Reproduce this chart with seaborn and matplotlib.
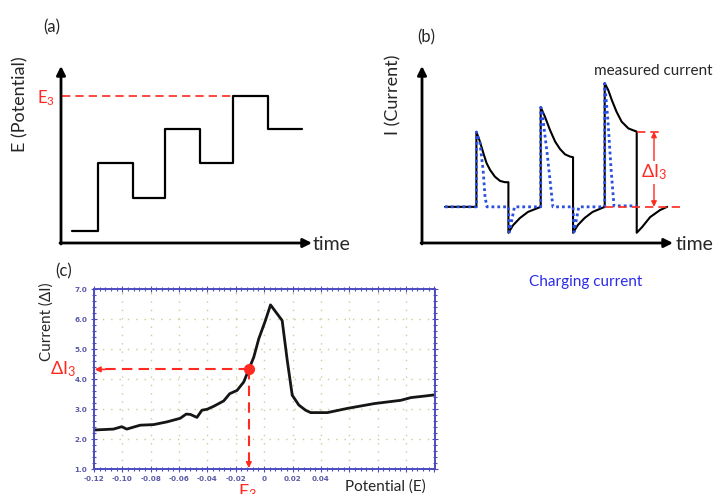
import numpy as np
import pandas as pd
import matplotlib
matplotlib.use("Agg")
import matplotlib.pyplot as plt
import seaborn as sns
from matplotlib.ticker import MultipleLocator, FixedLocator, FixedFormatter

# ---------------- data ----------------
# Panel (a): staircase potential waveform (time, level)
a_time = [0.33, 1.10, 2.13, 3.08, 4.12, 5.10, 6.13, 7.14]
a_potential = [0.36, 2.37, 1.33, 3.38, 2.37, 4.36, 3.38, 3.38]
a_e3_level = 4.36
a_e3_end = 5.10

# Panel (b): measured current and charging current
b_meas_t = [0.72, 1.70, 1.70, 1.81, 1.92, 2.02, 2.13, 2.28, 2.44, 2.59, 2.70,
            2.70, 2.85, 3.06, 3.31, 3.71,
            3.71, 3.84, 4.00, 4.16, 4.31, 4.47, 4.63, 4.72,
            4.72, 4.87, 5.08, 5.33, 5.71,
            5.71, 5.82, 5.93, 6.08, 6.24, 6.45, 6.71,
            6.71, 6.88, 7.13, 7.44, 7.66]
b_meas_i = [1.13, 1.13, 3.47, 3.17, 2.80, 2.49, 2.28, 2.07, 1.94, 1.90, 1.90,
            0.32, 0.56, 0.78, 0.97, 1.13,
            4.24, 3.95, 3.53, 3.17, 2.94, 2.77, 2.70, 2.68,
            0.32, 0.56, 0.78, 0.97, 1.13,
            4.99, 4.78, 4.47, 4.10, 3.79, 3.58, 3.48,
            0.32, 0.50, 0.81, 1.03, 1.13]
b_charge_t = [0.72, 1.70, 1.70, 1.81, 1.91, 1.97, 2.03, 2.70, 2.73, 2.89, 3.71, 3.71, 3.74, 3.91,
              4.09, 4.72, 4.75, 4.90, 5.71, 5.71, 5.81, 5.91, 6.00, 6.71]
b_charge_i = [1.13, 1.13, 3.47, 3.13, 2.28, 1.44, 1.13, 1.13, 0.34, 1.13, 1.13, 4.24, 4.20, 2.81,
              1.13, 1.13, 0.34, 1.13, 1.13, 4.99, 3.84, 2.28, 1.16, 1.16]
b_baseline = 1.13
b_i3_top = 3.48
b_step3_end = 6.71

# Panel (c): differential pulse voltammogram
c_potential = [-0.120, -0.1063, -0.1004, -0.0969, -0.0875, -0.078, -0.0686, -0.0592, -0.055, -0.0521,
               -0.0474, -0.0439, -0.0403, -0.0356, -0.0285, -0.0243, -0.0191, -0.0144, -0.0108,
               -0.0073, -0.0038, 0.0009, 0.0045, 0.0127, 0.0163, 0.0198, 0.0245, 0.0292, 0.0328,
               0.0446, 0.0587, 0.0776, 0.0964, 0.1035, 0.1129, 0.1200]
c_current = [2.30, 2.33, 2.41, 2.33, 2.46, 2.48, 2.57, 2.69, 2.83, 2.82,
             2.72, 2.96, 2.99, 3.09, 3.27, 3.51, 3.62, 3.90, 4.32,
             4.73, 5.34, 5.95, 6.47, 5.95, 4.62, 3.46, 3.13, 2.96, 2.88,
             2.88, 3.02, 3.18, 3.29, 3.38, 3.43, 3.47]
c_e3 = -0.0108
c_di3 = 4.32
c_xtick_values = [-0.12, -0.10, -0.08, -0.06, -0.04, -0.02, 0.0, 0.02, 0.04, 0.06, 0.08, 0.10, 0.12]
c_xtick_labels = ["-0.12", "-0.10", "-0.08", "-0.06", "-0.04", "-0.02", "0", "0.02", "0.04",
                  "", "", "", ""]
c_ytick_values = [1.0, 2.0, 3.0, 4.0, 5.0, 6.0, 7.0]
c_ytick_labels = ["1.0", "2.0", "3.0", "4.0", "5.0", "6.0", "7.0"]

# ---------------- style ----------------
sns.set_theme(style="white")
plt.rcParams["font.family"] = ["Lato", "DejaVu Sans"]
plt.rcParams["mathtext.fontset"] = "custom"
plt.rcParams["mathtext.rm"] = "Lato"
plt.rcParams["mathtext.it"] = "Lato:italic"

RED = "#ff2a20"
BLUE = "#2a4fe0"
AXBLUE = "#4c4cc0"

W, H = 720, 494
fig = plt.figure(figsize=(7.2, 4.94), dpi=100)


def box(l, t, r, b):
    return [l / W, 1 - b / H, (r - l) / W, (b - t) / H]


def ftext(x, y, s, **kw):
    fig.text(x / W, 1 - y / H, s, **kw)


# ---------------- panel (a) ----------------
U = 33.75
axa = fig.add_axes(box(40, 60, 330, 250))
axa.set_xlim((40 - 61) / U, (330 - 61) / U)
axa.set_ylim((243 - 250) / U, (243 - 60) / U)
axa.axis("off")
dfa = pd.DataFrame({"t": a_time, "E": a_potential})
sns.lineplot(data=dfa, x="t", y="E", ax=axa, drawstyle="steps-post", color="black",
             lw=1.6, sort=False, estimator=None)
axa.plot([0.03, a_e3_end], [a_e3_level, a_e3_level], color=RED, lw=1.2, ls=(0, (5, 3)))
arr = dict(arrowstyle="-|>", lw=2, color="black", mutation_scale=13, shrinkA=0, shrinkB=0)
axa.annotate("", xy=((312 - 61) / U, 0), xytext=(-0.03, 0), arrowprops=arr)
axa.annotate("", xy=(0, (243 - 66) / U), xytext=(0, -0.03), arrowprops=arr)

ftext(52, 27, "(a)", fontsize=12, ha="center", va="center")
ftext(20, 104, "E (Potential)", fontsize=13, rotation=90, ha="center", va="center")
ftext(313, 244, "time", fontsize=14, ha="left", va="center")
ftext(46, 98, r"$\mathregular{E_3}$", fontsize=12, color=RED, ha="center", va="center")

# ---------------- panel (b) ----------------
U2 = 32.0
axb = fig.add_axes(box(400, 55, 715, 250))
axb.set_xlim((400 - 422) / U2, (715 - 422) / U2)
axb.set_ylim((243 - 250) / U2, (243 - 55) / U2)
axb.axis("off")
dfm = pd.DataFrame({"t": b_meas_t, "I": b_meas_i})
sns.lineplot(data=dfm, x="t", y="I", ax=axb, color="black", lw=1.5, sort=False, estimator=None)
dfc = pd.DataFrame({"t": b_charge_t, "I": b_charge_i})
sns.lineplot(data=dfc, x="t", y="I", ax=axb, color=BLUE, lw=2.0, ls=(0, (1, 1.1)),
             sort=False, estimator=None)
axb.plot([5.72, (680 - 422) / U2], [b_baseline, b_baseline], color=RED, lw=1.2, ls=(0, (5, 3)))
axb.plot([b_step3_end, 7.44], [b_i3_top, b_i3_top], color=RED, lw=1.2, ls=(0, (5, 3)))
axb.annotate("", xy=(7.25, b_baseline), xytext=(7.25, b_i3_top),
             arrowprops=dict(arrowstyle="<|-|>", lw=1.0, color=RED, mutation_scale=8,
                             shrinkA=0, shrinkB=0))
axb.text(7.25, 2.2, r"$\mathregular{ΔI_3}$", fontsize=13, color=RED, ha="center", va="center",
         bbox=dict(facecolor="white", edgecolor="none", pad=1))
axb.annotate("", xy=((673 - 422) / U2, 0), xytext=(-0.03, 0), arrowprops=arr)
axb.annotate("", xy=(0, (243 - 66) / U2), xytext=(0, -0.03), arrowprops=arr)

ftext(426, 37, "(b)", fontsize=12, ha="center", va="center")
ftext(393, 95, "I (Current)", fontsize=13, rotation=90, ha="center", va="center")
ftext(676, 244, "time", fontsize=14, ha="left", va="center")
ftext(653, 71, "measured current", fontsize=11, ha="center", va="center")
ftext(586, 282, "Charging current", fontsize=11, color="#2a2ae8", ha="center", va="center")

# ---------------- panel (c) ----------------
axc = fig.add_axes(box(94, 289, 435, 469))
dfv = pd.DataFrame({"E": c_potential, "I": c_current})
sns.lineplot(data=dfv, x="E", y="I", ax=axc, color="#151515", lw=2.0, sort=False, estimator=None)
axc.set_xlim(-0.12, 0.1205)
axc.set_ylim(1.0, 7.0)
axc.xaxis.set_major_locator(FixedLocator(c_xtick_values))
axc.xaxis.set_major_formatter(FixedFormatter(c_xtick_labels))
axc.yaxis.set_major_locator(FixedLocator(c_ytick_values))
axc.yaxis.set_major_formatter(FixedFormatter(c_ytick_labels))
axc.xaxis.set_minor_locator(MultipleLocator(0.004))
axc.yaxis.set_minor_locator(MultipleLocator(0.2))
axc.tick_params(which="both", direction="inout", color=AXBLUE, top=True, right=True,
                bottom=True, left=True, labelcolor="#5a5aa8", labelsize=5.2, width=0.8)
axc.tick_params(which="major", length=4, pad=3)
axc.tick_params(which="minor", length=2.5)
for lab in axc.get_xticklabels() + axc.get_yticklabels():
    lab.set_fontweight("bold")
    lab.set_family("DejaVu Sans")
for sp in axc.spines.values():
    sp.set_color(AXBLUE)
    sp.set_linewidth(1.4)
axc.grid(True, which="major", color="#c3d096", lw=1.0, ls=(0, (1, 5)))
axc.set_xlabel("")
axc.set_ylabel("")

axc.plot([c_e3, -0.118], [c_di3, c_di3], color=RED, lw=1.5, ls=(0, (5, 3)))
axc.plot([c_e3, c_e3], [c_di3, 1.1], color=RED, lw=1.5, ls=(0, (5, 3)))
axc.annotate("", xy=(-0.1195, c_di3), xytext=(-0.112, c_di3),
             arrowprops=dict(arrowstyle="-|>", lw=1.2, color=RED, mutation_scale=8,
                             shrinkA=0, shrinkB=0))
axc.annotate("", xy=(c_e3, 1.03), xytext=(c_e3, 1.35),
             arrowprops=dict(arrowstyle="-|>", lw=1.2, color=RED, mutation_scale=8,
                             shrinkA=0, shrinkB=0))
axc.plot([c_e3], [c_di3], "o", color=RED, ms=7, zorder=5)

ftext(64, 271, "(c)", fontsize=12, ha="center", va="center")
ftext(47, 322, "Current (ΔI)", fontsize=11, rotation=90, ha="center", va="center")
ftext(63, 369, r"$\mathregular{ΔI_3}$", fontsize=13, color=RED, ha="center", va="center")
ftext(248, 482, r"$\mathregular{E_3}$", fontsize=13, color=RED, ha="center", va="top")
ftext(385, 487, "Potential (E)", fontsize=11, ha="center", va="center")

fig.savefig("out.png", dpi=100)
